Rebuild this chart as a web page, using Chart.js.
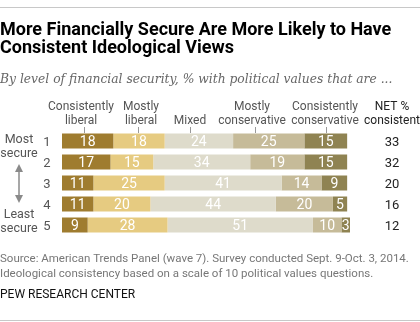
<!DOCTYPE html>
<html>
<head>
<meta charset="utf-8">
<script src="https://cdn.jsdelivr.net/npm/chart.js@4.4.0/dist/chart.umd.min.js"></script>
<style>
  html, body { margin: 0; padding: 0; background: #fff; }
  canvas { display: block; }
</style>
</head>
<body>
<canvas id="chart" width="420" height="322"></canvas>
<script>
// financial security level, 1 = most secure, 5 = least secure
const rows = ["1", "2", "3", "4", "5"];
const groups = ["Consistently liberal", "Mostly liberal", "Mixed", "Mostly conservative", "Consistently conservative"];
const consLiberal = [18, 17, 11, 11, 9];
const mostlyLiberal = [18, 15, 25, 20, 28];
const mixed = [24, 34, 41, 44, 51];
const mostlyConservative = [25, 19, 14, 20, 10];
const consConservative = [15, 15, 9, 5, 3];
const barColors = ["#9f7c2f", "#e6cb81", "#dedbcb", "#c6bb99", "#8f8352"];

const series = [consLiberal, mostlyLiberal, mixed, mostlyConservative, consConservative];
const netConsistent = rows.map((r, i) => consLiberal[i] + consConservative[i]);

const FONT = "Roboto, 'Liberation Sans', sans-serif";

// column headers above the bars, with the little pointer lines
const headers = [
  { lines: ["Consistently", "liberal"], x: 81, tick: 84 },
  { lines: ["Mostly", "liberal"], x: 141, tick: 138 },
  { lines: ["Mixed"], x: 190, tick: 190 },
  { lines: ["Mostly", "conservative"], x: 252, tick: 255 },
  { lines: ["Consistently", "conservative"], x: 325, tick: 326 }
];

const decor = {
  id: "decor",
  afterDatasetsDraw(chart) {
    const ctx = chart.ctx;
    const yScale = chart.scales.y;
    ctx.save();

    // rules top and bottom
    ctx.strokeStyle = "#c8c8c8";
    ctx.lineWidth = 1;
    ctx.beginPath();
    ctx.moveTo(0, 7.5); ctx.lineTo(420, 7.5);
    ctx.moveTo(0, 320.5); ctx.lineTo(420, 320.5);
    ctx.stroke();

    // title
    ctx.fillStyle = "#000";
    ctx.textAlign = "left";
    ctx.textBaseline = "alphabetic";
    ctx.font = "700 18px " + FONT;
    ctx.fillText("More Financially Secure Are More Likely to Have", 0, 35);
    ctx.fillText("Consistent Ideological Views", 0, 53);

    // subtitle
    ctx.fillStyle = "#666";
    ctx.font = "italic 12.3px 'DejaVu Serif', serif";
    ctx.fillText("By level of financial security, % with political values that are ...", 0, 83);

    // column headers
    ctx.textAlign = "center";
    ctx.font = "12px " + FONT;
    ctx.fillStyle = "#555";
    headers.forEach(h => {
      const lines = h.lines.length === 1 ? [null, h.lines[0]] : h.lines;
      if (lines[0]) ctx.fillText(lines[0], h.x, 110);
      ctx.fillText(lines[1], h.x, 124);
      ctx.strokeStyle = "#999";
      ctx.beginPath();
      ctx.moveTo(h.tick + 0.5, 127);
      ctx.lineTo(h.tick + 0.5, 133);
      ctx.stroke();
    });
    ctx.fillStyle = "#222";
    ctx.fillText("NET %", 392, 110);
    ctx.fillText("consistent", 392, 124);

    // row numbers and net values
    rows.forEach((r, i) => {
      const y = yScale.getPixelForValue(i);
      ctx.font = "13px " + FONT;
      ctx.fillStyle = "#555";
      ctx.fillText(r, 47, y + 5);
      ctx.fillStyle = "#222";
      ctx.fillText(String(netConsistent[i]), 392, y + 5);
    });

    // secure labels with double arrow
    ctx.fillStyle = "#555";
    ctx.font = "12.5px " + FONT;
    ctx.fillText("Most", 19, 143);
    ctx.fillText("secure", 19, 157);
    ctx.fillText("Least", 19, 218);
    ctx.fillText("secure", 19, 232);
    ctx.strokeStyle = "#8a8a8a";
    ctx.fillStyle = "#8a8a8a";
    ctx.lineWidth = 1.5;
    ctx.beginPath();
    ctx.moveTo(19, 170); ctx.lineTo(19, 197);
    ctx.stroke();
    ctx.beginPath();
    ctx.moveTo(19, 164); ctx.lineTo(15, 172); ctx.lineTo(23, 172); ctx.closePath();
    ctx.moveTo(19, 203); ctx.lineTo(15, 195); ctx.lineTo(23, 195); ctx.closePath();
    ctx.fill();

    // values inside the segments
    ctx.fillStyle = "#fff";
    ctx.font = "14px " + FONT;
    chart.data.datasets.forEach((ds, di) => {
      chart.getDatasetMeta(di).data.forEach((bar, i) => {
        const c = bar.getCenterPoint();
        ctx.fillText(String(ds.data[i]), c.x, c.y + 5);
      });
    });

    // footer
    ctx.textAlign = "left";
    ctx.fillStyle = "#777";
    ctx.font = "11.5px " + FONT;
    ctx.fillText("Source: American Trends Panel (wave 7). Survey conducted Sept. 9-Oct. 3, 2014.", 0, 262);
    ctx.fillText("Ideological consistency based on a scale of 10 political values questions.", 0, 277);
    ctx.fillStyle = "#111";
    ctx.font = "12px " + FONT;
    ctx.fillText("PEW RESEARCH CENTER", 0, 298);

    ctx.restore();
  }
};

new Chart(document.getElementById("chart"), {
  type: "bar",
  data: {
    labels: rows,
    datasets: series.map((d, i) => ({
      label: groups[i],
      data: d,
      backgroundColor: barColors[i],
      borderWidth: 0,
      barPercentage: 0.72,
      categoryPercentage: 1
    }))
  },
  options: {
    indexAxis: "y",
    responsive: false,
    animation: false,
    layout: { padding: { left: 62, right: 70, top: 130.5, bottom: 86.5 } },
    plugins: { legend: { display: false }, tooltip: { enabled: false } },
    scales: {
      x: { stacked: true, min: 0, max: 101, display: false },
      y: { stacked: true, display: false }
    }
  },
  plugins: [decor]
});
</script>
</body>
</html>
